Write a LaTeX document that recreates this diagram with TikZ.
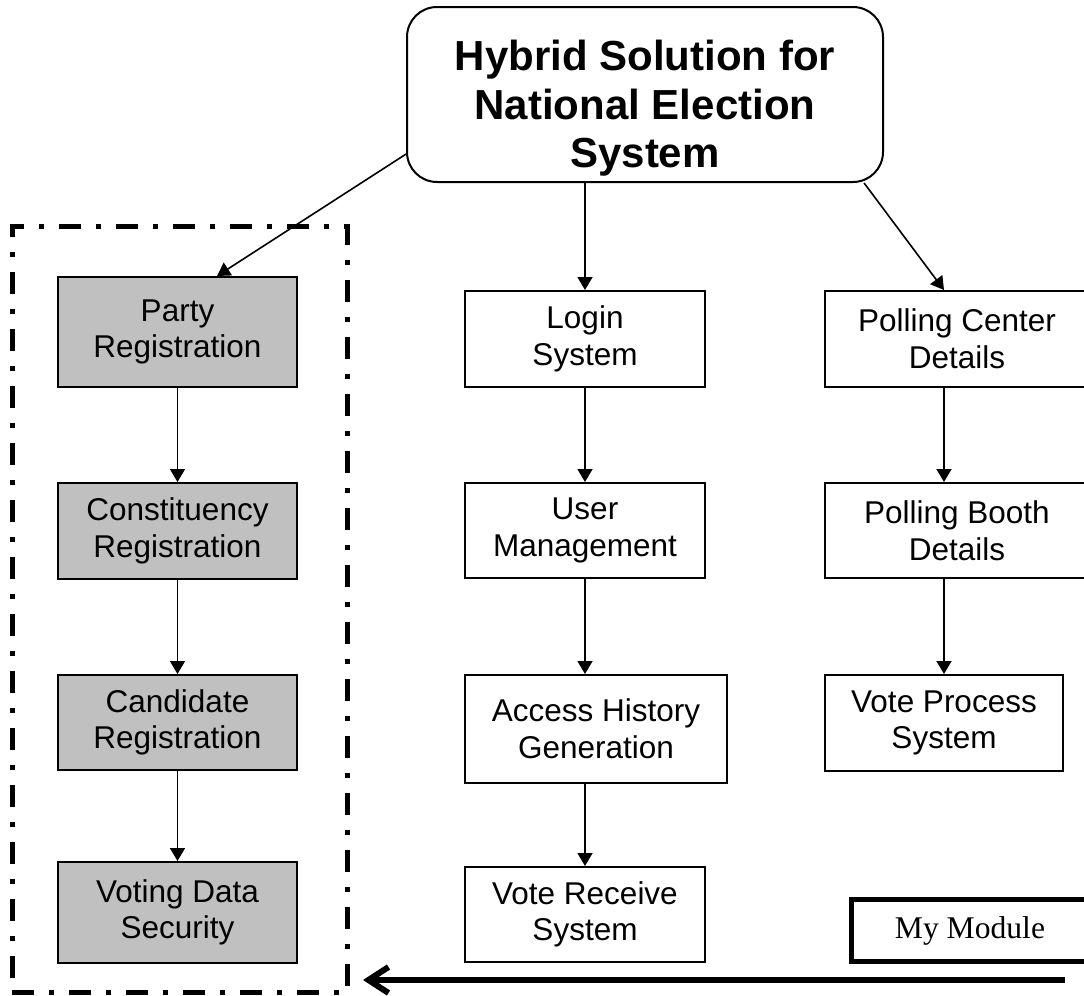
\documentclass[tikz,border=0pt]{standalone}
\usepackage{fontspec}
\setmainfont{Liberation Sans}
\newfontfamily\serifmod{Liberation Serif}
\usepackage{tikz}
\usetikzlibrary{arrows.meta,positioning}
\definecolor{regfill}{HTML}{C0C0C0}

\begin{document}
\begin{tikzpicture}[x=0.5pt,y=-0.5pt,
    modbox/.style={draw,line width=1pt,align=center,inner sep=0pt,
      font=\fontsize{15.75}{18.3}\selectfont},
    regbox/.style={modbox,fill=regfill,minimum width=119.5pt},
    link/.style={line width=0.8pt,-{Triangle[length=6.5pt,width=7.5pt]}}]
    \useasboundingbox (0,0) rectangle (1084,996);
    \node[draw,line width=1pt,rounded corners=15pt,minimum width=238pt,minimum height=87.5pt] (title) at (645,94.5) {};
    \node[align=center,font=\bfseries\fontsize{21}{24.25}\selectfont] (titletext) at ([yshift=-7pt]title.center) {Hybrid Solution for\\National Election\\System};
    % registration chain inside the dash-dot frame
    \node[draw,line width=2.5pt,dash pattern=on 11pt off 7.5pt on 2.5pt off 7.5pt,minimum width=167.75pt,minimum height=383pt] (group) at (179.75,609.5) {};
    \node[regbox,minimum height=55pt] (party) at (177.5,332) {Party\\Registration};
    \node[regbox,minimum height=48pt] (constit) at (177.5,531) {Constituency\\Registration};
    \node[regbox,minimum height=47.5pt] (cand) at (177.5,722.5) {Candidate\\Registration};
    \node[regbox,minimum height=50.5pt] (votesec) at (177.5,912.5) {Voting Data\\Security};
    \node[modbox,minimum width=120pt,minimum height=48pt] (login) at (585,339) {Login\\System};
    \node[modbox,minimum width=120pt,minimum height=47.5pt] (usermgmt) at (585,530.5) {User\\Management};
    \node[modbox,minimum width=131pt,minimum height=54pt] (access) at (596,729) {Access History\\Generation};
    \node[modbox,minimum width=120pt,minimum height=47.5pt] (receive) at (585,914.5) {Vote Receive\\System};
    \node[modbox,minimum width=132pt,minimum height=48pt] (pcenter) at (957,339) {Polling Center\\Details};
    \node[modbox,minimum width=132pt,minimum height=47.5pt] (pbooth) at (957,530.5) {Polling Booth\\Details};
    \node[modbox,minimum width=119pt,minimum height=48pt] (vproc) at (944,723) {Vote Process\\System};
    \node[draw,line width=2.5pt,minimum width=118.5pt,minimum height=31pt,font=\serifmod\fontsize{15.8}{18}\selectfont] (mymodule) at (970,930.5) {My Module};
    \coordinate (feed) at (1065,980);

    \draw[link] (title.-166) -- ([xshift=19.75pt]party.north);
    \draw[link] (title.south -| login.north) -- (login.north);
    \draw[link] (title.-22) -- (pcenter.north -| vproc.north);
    \draw[link] (party) -- (constit);
    \draw[link] (constit) -- (cand);
    \draw[link] (cand) -- (votesec);
    \draw[link] (login) -- (usermgmt);
    \draw[link] (usermgmt.south) -- (access.north -| usermgmt.south);
    \draw[link] (access.south -| receive.north) -- (receive.north);
    \draw[link] (pcenter.south -| vproc.north) -- (pbooth.north -| vproc.north);
    \draw[link] (pbooth.south -| vproc.north) -- (vproc.north);
    \draw[line width=3pt,-{Straight Barb[length=10pt,width=13pt]},shorten >=6.5pt] (feed) -- (group.east |- feed);
  \end{tikzpicture}
\end{document}
